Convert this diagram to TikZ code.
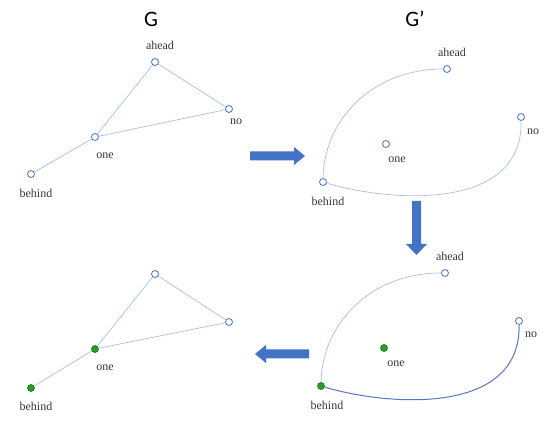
\documentclass[tikz,border=0pt]{standalone}
\usepackage{fontspec}
\newfontfamily\titlefont{Carlito}
\newfontfamily\lblfont{Liberation Serif}
\begin{document}
\begin{tikzpicture}[x=1pt,y=-1pt,
  vtx/.style={circle,draw=nodeblue,fill=white,line width=0.8pt,inner sep=0pt,minimum size=7pt},
  gvtx/.style={circle,draw=green!50!black,fill=nodegreen,line width=0.6pt,inner sep=0pt,minimum size=7pt},
  lbl/.style={font=\lblfont\fontsize{12}{13}\selectfont,text=black!78,inner sep=0pt},
  ttl/.style={font=\titlefont\fontsize{22}{24}\selectfont,text=black,inner sep=0pt},
  edge/.style={draw=edgeblue,line width=0.7pt},
  dedge/.style={draw=darkedge,line width=1pt},
  bigarrow/.style={fill=arrowblue,draw=none}]
\definecolor{nodeblue}{HTML}{4A72C0}
\definecolor{edgeblue}{HTML}{A9BFE8}
\definecolor{darkedge}{HTML}{5877BE}
\definecolor{nodegreen}{HTML}{2E9A2E}
\definecolor{arrowblue}{HTML}{4472C4}
\useasboundingbox (0,0) rectangle (550,422);
\fill[white] (0,0) rectangle (550,422);

% titles
\node[ttl] (tG) at (151,19) {G};
\node[ttl] (tGp) at (415,19) {G’};

% ---------- G (top left)
\node[vtx] (a1) at (155,62) {};
\node[vtx] (n1) at (229,109) {};
\node[vtx] (o1) at (95,137) {};
\node[vtx] (b1) at (31,174) {};
\draw[edge] (o1) -- (a1);
\draw[edge] (a1) -- (n1);
\draw[edge] (o1) -- (n1);
\draw[edge] (b1) -- (o1);
\node[lbl] (la1) at (160,45) {ahead};
\node[lbl] (ln1) at (236,122) {no};
\node[lbl] (lo1) at (105,156) {one};
\node[lbl] (lb1) at (36,193) {behind};

% ---------- G' (top right)
\node[vtx] (a2) at (447,69) {};
\node[vtx] (n2) at (521,117) {};
\node[vtx] (o2) at (386,144) {};
\node[vtx] (b2) at (323,182) {};
\draw[edge] (b2) .. controls (324,120) and (372,69) .. (a2);
\draw[edge] (b2) .. controls (390,202) and (523,212) .. (n2);
\node[lbl] (la2) at (452,52) {ahead};
\node[lbl] (ln2) at (533,132) {no};
\node[lbl] (lo2) at (397,160) {one};
\node[lbl] (lb2) at (328,201) {behind};

% ---------- bottom right
\node[vtx] (a3) at (445,273) {};
\node[vtx] (n3) at (519,321) {};
\node[gvtx] (o3) at (384,348) {};
\node[gvtx] (b3) at (321,386) {};
\draw[edge] (b3) .. controls (322,324) and (370,273) .. (a3);
\draw[dedge] (b3) .. controls (388,406) and (521,416) .. (n3);
\node[lbl] (la3) at (450,256) {ahead};
\node[lbl] (ln3) at (531,335) {no};
\node[lbl] (lo3) at (396,364) {one};
\node[lbl] (lb3) at (327,405) {behind};

% ---------- bottom left
\node[vtx] (a4) at (155,274) {};
\node[vtx] (n4) at (229,322) {};
\node[gvtx] (o4) at (95,349) {};
\node[gvtx] (b4) at (31,388) {};
\draw[edge] (o4) -- (a4);
\draw[edge] (a4) -- (n4);
\draw[edge] (o4) -- (n4);
\draw[edge] (b4) -- (o4);
\node[lbl] (lo4) at (105,368) {one};
\node[lbl] (lb4) at (36,406) {behind};

% ---------- block arrows
\fill[bigarrow] (250,151.5) -- (294,151.5) -- (294,147) -- (305,156) -- (294,165) -- (294,160.5) -- (250,160.5) -- cycle;
\fill[bigarrow] (412,201) -- (421,201) -- (421,244) -- (427,244) -- (416.5,255) -- (406,244) -- (412,244) -- cycle;
\fill[bigarrow] (309,349.5) -- (266,349.5) -- (266,345) -- (255,354) -- (266,363) -- (266,358.5) -- (309,358.5) -- cycle;
\end{tikzpicture}
\end{document}
